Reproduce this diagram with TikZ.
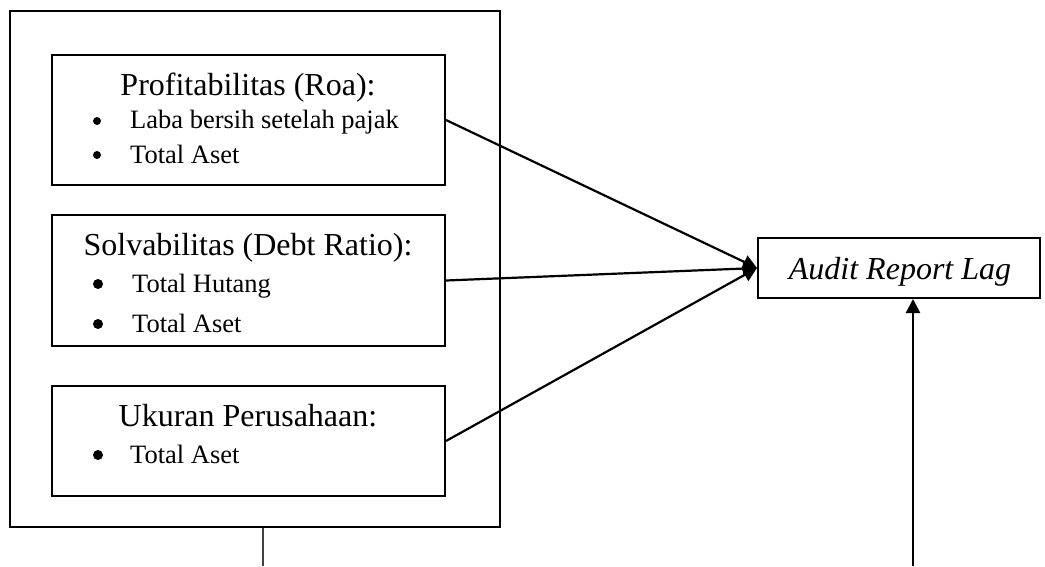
\documentclass[tikz,border=0pt]{standalone}
\usepackage{fontspec}
\setmainfont{Liberation Serif}
\usetikzlibrary{arrows.meta}
\begin{document}
\begin{tikzpicture}[x=1pt,y=-1pt,
  box/.style={draw, line width=2pt, inner sep=0pt},
  ttl/.style={anchor=base, inner sep=0pt, font=\fontsize{32}{38}\selectfont},
  itm/.style={anchor=base west, inner sep=0pt, font=\fontsize{26.5}{31}\selectfont},
  bul/.style={circle, fill, inner sep=0pt, minimum size=8pt},
  bigbul/.style={circle, fill, inner sep=0pt, minimum size=10pt},
  conn/.style={line width=2.2pt, -{Triangle[length=14pt,width=14pt]}},
  thinline/.style={line width=1.2pt, black!75}]
\useasboundingbox (0,0) rectangle (1045,566);
\node[box, minimum width=490pt, minimum height=516pt] (outer) at (255,269) {};
\node[box, minimum width=393pt, minimum height=130pt] (b1) at (248.5,120) {};
\node[box, minimum width=393pt, minimum height=131pt] (b2) at (248.5,280.5) {};
\node[box, minimum width=393pt, minimum height=110pt] (b3) at (248.5,441) {};
\node[box, minimum width=282pt, minimum height=60pt] (audit) at (899,268) {};
% texts
\node[ttl] (t1) at (248,95) {Profitabilitas (Roa):};
\node[bul] (p1a) at (97,121) {};
\node[itm] (i1a) at (130,128) {Laba bersih setelah pajak};
\node[bul] (p1b) at (97,155) {};
\node[itm] (i1b) at (130,163) {Total Aset};
\node[ttl] (t2) at (248,255) {Solvabilitas (Debt Ratio):};
\node[bigbul] (p2a) at (98,284) {};
\node[itm] (i2a) at (132,292) {Total Hutang};
\node[bigbul] (p2b) at (98,324) {};
\node[itm] (i2b) at (132,332) {Total Aset};
\node[ttl] (t3) at (248,426) {Ukuran Perusahaan:};
\node[bigbul] (p3a) at (98,455) {};
\node[itm] (i3a) at (130,463) {Total Aset};
\node[anchor=base, inner sep=0pt, font=\fontsize{32}{38}\selectfont\itshape] (ta) at (900,279) {Audit Report Lag};
% connectors
\draw[conn] (b1.east) -- (audit.west);
\draw[conn] (b2.east) -- (audit.west);
\draw[conn] (b3.east) -- (audit.west);
\coordinate (src) at (913,566);
\draw[conn] (src) -- (src |- audit.south);
\coordinate (bot) at (263,566);
\draw[thinline] (bot |- outer.south) -- (bot);
\end{tikzpicture}
\end{document}
